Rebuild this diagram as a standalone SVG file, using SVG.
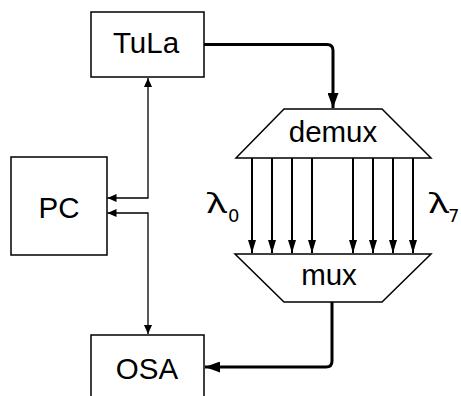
<svg xmlns="http://www.w3.org/2000/svg" width="461" height="396" viewBox="0 0 461 396">
<style>
.box{fill:#fff;stroke:#000;stroke-width:1.5}
.lbl{font-family:"Liberation Sans",Arial,sans-serif;font-size:29.5px;text-anchor:middle;fill:#000}
.thin{fill:none;stroke:#000;stroke-width:1.3}
.mid{fill:none;stroke:#000;stroke-width:2}
.thick{fill:none;stroke:#000;stroke-width:3;stroke-linejoin:round}
.lam{font-family:"Noto Sans","DejaVu Sans",sans-serif;font-size:27px;fill:#000}
.sub{font-family:"DejaVu Sans",sans-serif;font-size:18px;fill:#000}
</style>
<defs>
<marker id="aT" markerWidth="10" markerHeight="8" refX="9" refY="4" orient="auto" markerUnits="userSpaceOnUse"><path d="M0,0 L9,4 L0,8 Z" fill="#000"/></marker>
<marker id="aM" markerWidth="13" markerHeight="8" refX="13" refY="4" orient="auto" markerUnits="userSpaceOnUse"><path d="M0,0 L13,4 L0,8 Z" fill="#000"/></marker>
<marker id="aK" markerWidth="15" markerHeight="11" refX="15" refY="5.5" orient="auto" markerUnits="userSpaceOnUse"><path d="M0,0 L15,5.5 L0,11 Z" fill="#000"/></marker>
<marker id="aTs" markerWidth="10" markerHeight="8" refX="9" refY="4" orient="auto-start-reverse" markerUnits="userSpaceOnUse"><path d="M0,0 L9,4 L0,8 Z" fill="#000"/></marker>
</defs>
<g id="connectors">
<path class="thin" d="M148,78 V198 H107.5" marker-start="url(#aTs)" marker-end="url(#aT)"/>
<path class="thin" d="M107.5,213 H148 V334" marker-start="url(#aTs)" marker-end="url(#aT)"/>
<path class="thick" d="M204,44.5 H327 Q333,44.5 333,50.5 V108" marker-end="url(#aK)"/>
<path class="thick" d="M332,302 V361 Q332,367 326,367 H205" marker-end="url(#aK)"/>
<g class="mid">
<path d="M252,158 V253" marker-end="url(#aM)"/>
<path d="M272,158 V253" marker-end="url(#aM)"/>
<path d="M292,158 V253" marker-end="url(#aM)"/>
<path d="M312,158 V253" marker-end="url(#aM)"/>
<path d="M353,158 V253" marker-end="url(#aM)"/>
<path d="M373,158 V253" marker-end="url(#aM)"/>
<path d="M393,158 V253" marker-end="url(#aM)"/>
<path d="M413,158 V253" marker-end="url(#aM)"/>
</g>
</g>
<g id="tula">
<rect class="box" x="91" y="12" width="113" height="65"/>
<text class="lbl" x="146" y="53">TuLa</text>
</g>
<g id="pc">
<rect class="box" x="11" y="157" width="96" height="98"/>
<text class="lbl" x="59" y="218">PC</text>
</g>
<g id="osa">
<rect class="box" x="91" y="335" width="113" height="70"/>
<text class="lbl" x="147" y="379">OSA</text>
</g>
<g id="demux">
<path class="box" d="M284,109 H382 L431,158 H236 Z"/>
<text class="lbl" x="333" y="142">demux</text>
</g>
<g id="mux">
<path class="box" d="M235,254 H431 L382,302 H284 Z"/>
<text class="lbl" x="329" y="285">mux</text>
</g>
<g id="labels">
<text class="lam" x="207" y="213" textLength="20" lengthAdjust="spacingAndGlyphs">λ</text>
<text class="sub" x="228" y="222">0</text>
<text class="lam" x="429" y="213" textLength="20" lengthAdjust="spacingAndGlyphs">λ</text>
<text class="sub" x="448" y="222">7</text>
</g>
</svg>
